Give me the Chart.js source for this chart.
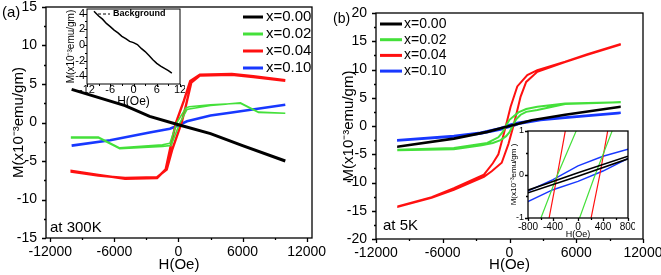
<!DOCTYPE html>
<html>
<head>
<meta charset="utf-8">
<script src="https://cdn.jsdelivr.net/npm/chart.js@4.4.0/dist/chart.umd.min.js"></script>
<style>
body { margin: 0; background: #fff; }
#wrap { position: relative; width: 661px; height: 275px; overflow: hidden; font-family: "Liberation Sans", Arial, sans-serif; }
canvas { position: absolute; }
.lbl { position: absolute; color: #000; line-height: 1; white-space: nowrap; }
</style>
</head>
<body>
<div id="wrap">
	<canvas id="chartA" width="330" height="275" style="left:0;top:0"></canvas>
	<canvas id="insetA" width="130" height="110" style="left:55px;top:0"></canvas>
	<canvas id="chartB" width="331" height="275" style="left:330px;top:0"></canvas>
	<canvas id="insetB" width="140" height="120" style="left:495px;top:120px"></canvas>
	<div class="lbl" style="left:2px;top:4px;font-size:15px">(a)</div>
	<div class="lbl" style="left:50px;top:219px;font-size:15px">at 300K</div>
	<div class="lbl" style="left:333px;top:11px;font-size:14px">(b)</div>
	<div class="lbl" style="left:383px;top:217px;font-size:15px">at 5K</div>
</div>
<script>
// ---- data, panel (a) at 300K : field H (Oe), magnetisation M (x10^-3 emu/gm)
const labels = ['x=0.00', 'x=0.02', 'x=0.04', 'x=0.10'];
const colors = ['#000000', '#44e03a', '#ff1010', '#1838ff'];

const hA000 = [-10000, -5000, -2700, 0, 3000, 6000, 10000];
const mA000 = [4.3, 2.2, 0.8, -0.3, -1.45, -3.0, -5.0];

const hA002 = [10000, 7500, 5800, 3000, 1000, 700, -150, -800, -1500, -5500, -7500, -10000,
	-10000, -7500, -5500, -1500, -700, 150, 800, 1000, 3000, 5800, 7500, 10000];
const mA002 = [1.2, 1.3, 2.5, 2.3, 2.05, 1.9, 0, -2.7, -2.9, -3.3, -1.9, -1.9,
	-2.0, -2.0, -3.4, -3.1, -3.0, 0, 1.7, 1.75, 2.2, 2.55, 1.35, 1.2];

const hA004 = [10000, 7000, 5000, 2000, 1100, 500, -230, -700, -1200, -2000, -5000, -7500, -10000,
	-10000, -7500, -5000, -2000, -1100, -600, 300, 700, 1200, 2000, 5000, 7000, 10000];
const mA004 = [5.5, 6.0, 6.3, 6.2, 5.4, 2.8, 0, -2.9, -6.1, -7.2, -7.3, -6.8, -6.3,
	-6.4, -6.9, -7.2, -7.1, -6.1, -3.6, 0, 2.2, 5.2, 6.1, 6.2, 5.9, 5.4];

const hA010 = [-10000, -6400, -2700, -800, 0, 800, 3000, 5000, 10000];
const mA010 = [-3.0, -2.3, -1.3, -0.8, -0.35, 0.15, 0.9, 1.3, 2.3];

// inset (a): background, H in kOe
const hBg = [-10.2, -9, -8, -7, -6, -5, -4, -3, -2, -1, 0, 1, 2, 3, 4, 5, 6, 7, 8, 9, 9.9];
const mBg = [4.3, 3.7, 3.3, 2.75, 2.35, 1.9, 1.55, 1.1, 0.8, 0.45, 0.3, 0.05, -0.45, -0.85, -1.35, -1.9, -2.35, -2.7, -3.0, -3.3, -3.6];

// ---- data, panel (b) at 5K
const hB000 = [10000, 5000, 2000, 800, 0, -800, -2000, -5000, -10000,
	-10000, -5000, -2000, -800, 0, 800, 2000, 5000, 10000];
const mB000 = [3.45, 2.0, 1.05, 0.42, 0.04, -0.36, -1.0, -2.2, -3.6,
	-3.65, -2.3, -1.1, -0.42, -0.04, 0.36, 1.0, 1.95, 3.4];

const hB002 = [10000, 5000, 2500, 1500, 800, 300, 0, -326, -620, -1000, -2000, -5000, -10000,
	-10000, -5000, -2500, -1500, -800, -300, 0, 276, 600, 1000, 1500, 2500, 5000, 10000];
const mB002 = [4.2, 4.0, 3.4, 3.0, 2.4, 1.6, 1.1, 0, -1.1, -2.0, -3.0, -3.9, -4.2,
	-4.3, -4.1, -3.4, -3.0, -2.5, -1.8, -1.1, 0, 1.2, 2.0, 2.5, 2.85, 3.9, 4.2];

const hB004 = [10000, 7000, 5000, 2500, 1600, 700, 100, -330, -700, -1000, -1500, -2300, -5000, -7000, -10000,
	-10000, -7000, -5000, -2300, -1600, -700, -100, 350, 700, 1000, 1500, 2500, 5000, 7000, 10000];
const mB004 = [14.5, 12.7, 11.4, 9.9, 9.0, 7.0, 3.4, 0, -2.8, -5.0, -6.6, -8.6, -11.0, -12.6, -14.2,
	-14.3, -12.7, -11.3, -9.0, -8.0, -6.5, -3.2, 0, 2.8, 5.2, 7.8, 9.6, 11.3, 12.6, 14.4];

const hB010 = [10000, 5000, 2800, 800, 400, 0, -400, -800, -2600, -5000, -10000,
	-10000, -5000, -2600, -800, -400, 0, 400, 800, 2800, 5000, 10000];
const mB010 = [2.35, 1.5, 1.15, 0.58, 0.42, 0.2, -0.12, -0.38, -1.2, -1.75, -2.5,
	-2.55, -1.85, -1.35, -0.62, -0.35, -0.16, 0.08, 0.37, 1.05, 1.45, 2.3];

// ---- ticks
const ticksMainX = [-12000, -6000, 0, 6000, 12000];
const minorMainX = [-9000, -3000, 3000, 9000];
const ticksAY = [-15, -10, -5, 0, 5, 10, 15];
const minorAY = [-12.5, -7.5, -2.5, 2.5, 7.5, 12.5];
const ticksBY = [-20, -15, -10, -5, 0, 5, 10, 15, 20];
const minorBY = [-17.5, -12.5, -7.5, -2.5, 2.5, 7.5, 12.5, 17.5];
const ticksInAX = [-12, -6, 0, 6, 12];
const minorInAX = [-9, -3, 3, 9];
const ticksInAY = [-4, -2, 0, 2, 4];
const minorInAY = [-3, -1, 1, 3];
const ticksInBX = [-800, -400, 0, 400, 800];
const minorInBX = [-600, -200, 200, 600];
const ticksInBY = [-1, 0, 1];
const minorInBY = [-0.5, 0.5];

Chart.defaults.font.family = '"Liberation Sans", Arial, sans-serif';
Chart.defaults.color = '#000';

function pts(h, m) {
	return h.map((v, i) => ({x: v, y: m[i]}));
}

// box around the plot, outward major/minor ticks, white fill for insets
function framePlugin(f) {
	return {
		id: 'frame',
		beforeDraw(chart) {
			if (!f.fill) return;
			const a = chart.chartArea;
			chart.ctx.save();
			chart.ctx.fillStyle = '#fff';
			chart.ctx.fillRect(a.left, a.top, a.right - a.left, a.bottom - a.top);
			chart.ctx.restore();
		},
		afterDraw(chart) {
			const ctx = chart.ctx, a = chart.chartArea, sx = chart.scales.x, sy = chart.scales.y;
			ctx.save();
			ctx.strokeStyle = '#000';
			ctx.lineWidth = f.lw;
			ctx.strokeRect(a.left, a.top, a.right - a.left, a.bottom - a.top);
			ctx.beginPath();
			f.xMajor.concat(f.xMinor).forEach((v, i) => {
				const px = Math.round(sx.getPixelForValue(v)) + 0.5;
				const len = i < f.xMajor.length ? f.major : f.minor;
				ctx.moveTo(px, a.bottom);
				ctx.lineTo(px, a.bottom + len);
			});
			f.yMajor.concat(f.yMinor).forEach((v, i) => {
				const py = Math.round(sy.getPixelForValue(v)) + 0.5;
				const len = i < f.yMajor.length ? f.major : f.minor;
				ctx.moveTo(a.left, py);
				ctx.lineTo(a.left - len, py);
			});
			ctx.stroke();
			ctx.restore();
		}
	};
}

// legend drawn as short line + label inside the plot
function legendPlugin(o) {
	return {
		id: 'lineLegend',
		afterDraw(chart) {
			if (!o) return;
			const ctx = chart.ctx;
			ctx.save();
			ctx.font = o.font;
			ctx.textBaseline = 'middle';
			chart.data.datasets.forEach((ds, i) => {
				const y = o.y + i * o.gap;
				ctx.strokeStyle = ds.borderColor;
				ctx.lineWidth = o.lw;
				ctx.setLineDash(o.dash || []);
				ctx.beginPath();
				ctx.moveTo(o.x, y);
				ctx.lineTo(o.x + o.len, y);
				ctx.stroke();
				ctx.fillStyle = '#000';
				ctx.fillText(o.text || ds.label, o.x + o.len + o.sp, y);
			});
			ctx.restore();
		}
	};
}

function noPad(s) {
	s.paddingTop = 0; s.paddingBottom = 0; s.paddingLeft = 0; s.paddingRight = 0;
}

function axisX(min, max, majors, fontSize, pad, height, title, titleSize, titlePad) {
	return {
		type: 'linear', min: min, max: max,
		grid: {display: false, drawTicks: false}, border: {display: false},
		afterBuildTicks: s => { s.ticks = majors.map(v => ({value: v})); },
		afterFit: s => { s.height = height; noPad(s); },
		ticks: {font: {size: fontSize}, padding: pad, maxRotation: 0, autoSkip: false, callback: v => String(v)},
		title: {display: true, text: title, font: {size: titleSize}, padding: titlePad}
	};
}

function axisY(min, max, majors, fontSize, pad, width, title, titleSize, titlePad) {
	return {
		type: 'linear', min: min, max: max,
		grid: {display: false, drawTicks: false}, border: {display: false},
		afterBuildTicks: s => { s.ticks = majors.map(v => ({value: v})); },
		afterFit: s => { s.width = width; noPad(s); },
		ticks: {font: {size: fontSize}, padding: pad, autoSkip: false, callback: v => String(v)},
		title: {display: true, text: title, font: {size: titleSize}, padding: titlePad}
	};
}

function makeChart(id, datasets, opts) {
	return new Chart(document.getElementById(id), {
		type: 'scatter',
		data: {datasets: datasets},
		options: {
			responsive: false,
			animation: false,
			events: [],
			layout: {padding: opts.padding},
			elements: {point: {radius: 0}, line: {tension: 0}},
			scales: {x: opts.x, y: opts.y},
			plugins: {legend: {display: false}, tooltip: {enabled: false}}
		},
		plugins: [framePlugin(opts.frame), legendPlugin(opts.legend)]
	});
}

function series(label, color, h, m, width) {
	return {label: label, data: pts(h, m), showLine: true, borderColor: color, backgroundColor: color, borderWidth: width};
}

const yTitle = 'M(x10\u207B\u00B3emu/gm)';

// panel (a)
makeChart('chartA', [
	series(labels[0], colors[0], hA000, mA000, 3),
	series(labels[1], colors[1], hA002, mA002, 1.6),
	series(labels[2], colors[2], hA004, mA004, 2.4),
	series(labels[3], colors[3], hA010, mA010, 2.6)
], {
	padding: {top: 7, right: 18, left: 0, bottom: 0},
	x: axisX(-12400, 12500, ticksMainX, 14, 6, 37, 'H(Oe)', 15, {top: 0, bottom: 1}),
	y: axisY(-15, 15, ticksAY, 14, 9, 46, yTitle, 15, {top: 10, bottom: 0}),
	frame: {lw: 1.3, major: 4, minor: 2, xMajor: ticksMainX, xMinor: minorMainX, yMajor: ticksAY, yMinor: minorAY},
	legend: {x: 243, y: 17, gap: 17, len: 20, sp: 3, lw: 3, font: '15px "Liberation Sans", Arial'}
});

makeChart('insetA', [
	series('Background', '#000', hBg, mBg, 1.5)
], {
	padding: {top: 9, right: 5, left: 0, bottom: 0},
	x: axisX(-12, 12, ticksInAX, 11, -1, 26, 'H(Oe)', 12, {top: 0, bottom: 1}),
	y: axisY(-5, 4.6, ticksInAY, 11, 2, 32, yTitle, 10, {top: 10, bottom: 0}),
	frame: {fill: true, lw: 1, major: 3, minor: 2, xMajor: ticksInAX, xMinor: minorInAX, yMajor: ticksInAY, yMinor: minorInAY},
	legend: {x: 43, y: 14, gap: 0, len: 12, sp: 3, lw: 1, dash: [3, 2], text: 'Background', font: 'bold 9px "Liberation Sans", Arial'}
});

// panel (b)
makeChart('chartB', [
	series(labels[0], colors[0], hB000, mB000, 2.2),
	series(labels[1], colors[1], hB002, mB002, 2),
	series(labels[2], colors[2], hB004, mB004, 2),
	series(labels[3], colors[3], hB010, mB010, 2.4)
], {
	padding: {top: 13, right: 18, left: 0, bottom: 0},
	x: axisX(-12000, 12000, ticksMainX, 14, 6, 36, 'H(Oe)', 15, {top: 0, bottom: 1}),
	y: axisY(-20, 20, ticksBY, 14, 9, 46, yTitle, 15, {top: 10, bottom: 0}),
	frame: {lw: 1.3, major: 4, minor: 2, xMajor: ticksMainX, xMinor: minorMainX, yMajor: ticksBY, yMinor: minorBY},
	legend: {x: 50, y: 24, gap: 15.7, len: 22, sp: 2, lw: 3, font: '14px "Liberation Sans", Arial'}
});

makeChart('insetB', [
	series(labels[0], colors[0], hB000, mB000, 1.6),
	series(labels[1], colors[1], hB002, mB002, 1.2),
	series(labels[2], colors[2], hB004, mB004, 1.2),
	series(labels[3], colors[3], hB010, mB010, 1.4)
], {
	padding: {top: 11, right: 7, left: 0, bottom: 0},
	x: axisX(-800, 800, ticksInBX, 10, 3, 22, 'H(Oe)', 9, {top: 0, bottom: 0}),
	y: axisY(-1, 1, ticksInBY, 9, 4, 33, 'M(x10\u207B\u00B3emu/gm )', 8, {top: 14, bottom: 0}),
	frame: {fill: true, lw: 1.3, major: 3, minor: 2, xMajor: ticksInBX, xMinor: minorInBX, yMajor: ticksInBY, yMinor: minorInBY},
	legend: null
});
</script>
</body>
</html>
